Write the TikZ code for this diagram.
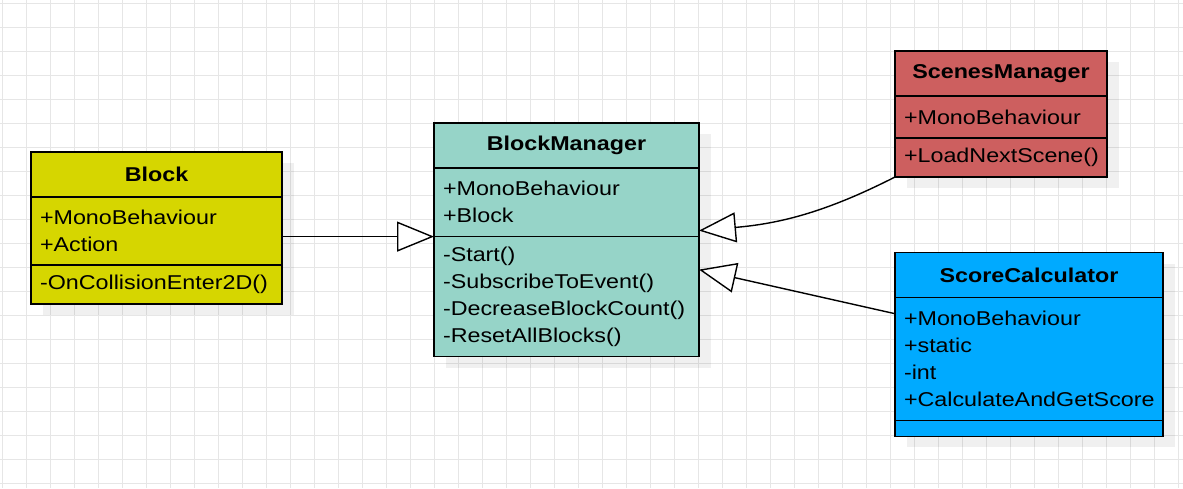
\documentclass[tikz,border=0pt]{standalone}
\usepackage{fontspec}
\setmainfont[FakeStretch=1.165]{Liberation Sans}
\usetikzlibrary{arrows.meta,positioning,shadows}
\definecolor{blockyellow}{HTML}{D6D600}
\definecolor{managerteal}{HTML}{96D4C8}
\definecolor{scenered}{HTML}{CD5F5F}
\definecolor{scoreblue}{HTML}{00AAFF}
\definecolor{gridgray}{HTML}{E6E6E6}
\begin{document}
\begin{tikzpicture}[x=0.5pt,y=0.5pt,
			uml/.style={draw=black,line width=0.75pt,outer sep=0pt,inner xsep=4.5pt,inner ysep=0pt,font=\fontsize{10pt}{13.5pt}\selectfont,drop shadow={shadow xshift=6pt,shadow yshift=-5.5pt,fill=black,opacity=0.06}},
			head/.style={uml,align=center,font=\fontsize{10pt}{13.5pt}\selectfont\bfseries,minimum height=22.5pt},
			body/.style={uml,align=left},
			gridline/.style={gridgray,line width=0.5pt},
			inherit/.style={-{Triangle[length=18.5pt,width=15pt,fill=white]},line width=0.7pt,black}
			]
			\useasboundingbox (0,0) rectangle (1183,-488);
			\fill[white] (0,0) rectangle (1183,-488);
			\foreach \gx in {2.7,26.7,...,1183} \draw[gridline] (\gx,0) -- (\gx,-488);
			\foreach \gy in {3.3,27.3,...,488} \draw[gridline] (0,-\gy) -- (1183,-\gy);

			\node[head,fill=blockyellow,text width=116.5pt,anchor=north west] (blk) at (31,-152) {Block};
			\node[body,fill=blockyellow,text width=116.5pt,minimum height=34pt] (blka) [below=0pt of blk] {+MonoBehaviour\\+Action};
			\node[body,fill=blockyellow,text width=116.5pt,minimum height=19.5pt] (blko) [below=0pt of blka] {-OnCollisionEnter2D()};

			\node[head,fill=managerteal,text width=123.5pt,anchor=north west] (bm) at (434,-123) {BlockManager};
			\node[body,fill=managerteal,text width=123.5pt,minimum height=34.3pt] (bma) [below=0pt of bm] {+MonoBehaviour\\+Block};
			\node[body,fill=managerteal,text width=123.5pt,minimum height=60pt] (bmo) [below=0pt of bma] {-Start()\\-SubscribeToEvent()\\-DecreaseBlockCount()\\-ResetAllBlocks()};

			\node[head,fill=scenered,text width=97pt,anchor=north west] (sm) at (895,-51) {ScenesManager};
			\node[body,fill=scenered,text width=97pt,minimum height=21pt] (sma) [below=0pt of sm] {+MonoBehaviour};
			\node[body,fill=scenered,text width=97pt,minimum height=19.5pt] (smo) [below=0pt of sma] {+LoadNextScene()};

			\node[head,fill=scoreblue,text width=125pt,anchor=north west] (sc) at (895,-252.7) {ScoreCalculator};
			\node[body,fill=scoreblue,text width=125pt,minimum height=61.3pt] (sca) [below=0pt of sc] {+MonoBehaviour\\+static\\-int\\+CalculateAndGetScore};
			\node[body,fill=scoreblue,text width=125pt,minimum height=8pt] (sco) [below=0pt of sca] {};

			\draw[inherit] (blka.east |- bmo.north) -- (bmo.north west);
			\draw[inherit] (smo.south west) to[out=207,in=5] ([yshift=3pt]bma.south east);
			\draw[inherit] ([yshift=-8pt]sca.north west) -- ([yshift=-16.5pt]bmo.north east);
		\end{tikzpicture}
\end{document}
